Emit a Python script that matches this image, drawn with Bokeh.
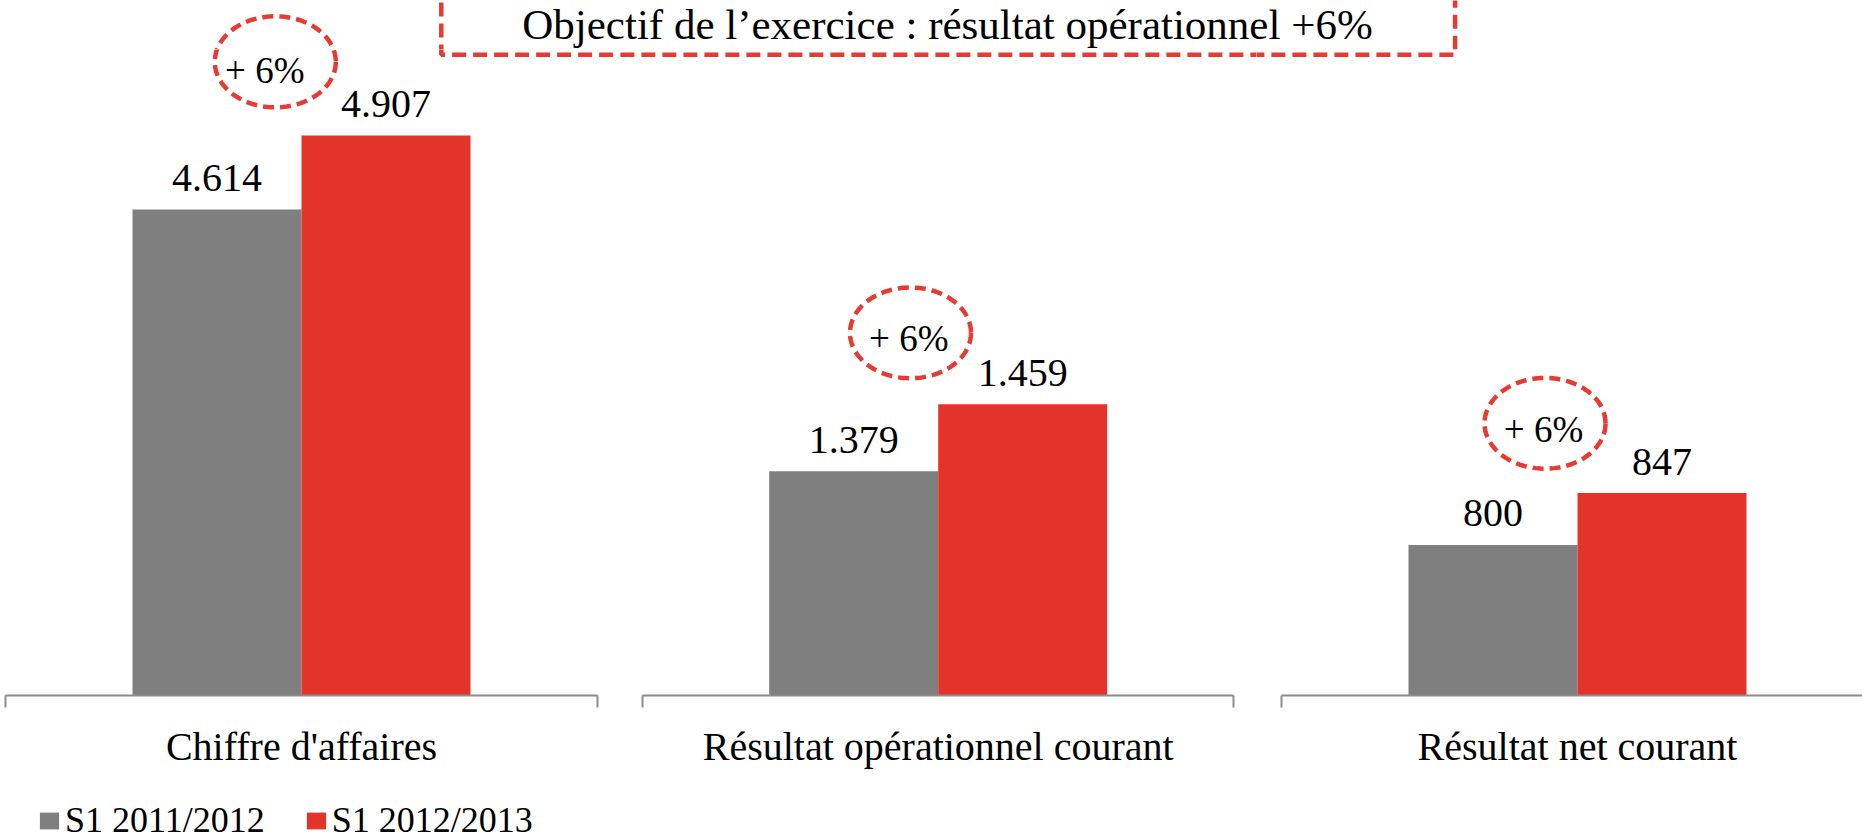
import numpy as np
from bokeh.plotting import figure
from bokeh.layouts import column, row
from bokeh.models import ColumnDataSource, Range1d, FixedTicker, Legend, LegendItem
from bokeh.core.properties import value
from bokeh.embed import file_html
from bokeh.resources import INLINE

# ---------------- data ----------------
categories = ["Chiffre d'affaires", "Résultat opérationnel courant", "Résultat net courant"]
series_names = ["S1 2011/2012", "S1 2012/2013"]
values_2011_2012 = [4614, 1379, 800]
values_2012_2013 = [4907, 1459, 847]
growth_labels = ["+ 6%", "+ 6%", "+ 6%"]
title_text = "Objectif de l’exercice : résultat opérationnel +6%"

# ---------------- styles / layout ----------------
GREY = "#7F7F7F"
RED = "#E4342A"
DASH_RED = "#E53B33"
AXIS_GREY = "#8C8C8C"
FONT_NAME = "Liberation Serif"
FONT = value(FONT_NAME)
MID = 0.3375            # text glyph baseline correction (fraction of font size)

TOTAL_W = 1862
TOP_H = 49              # header strip height
BOTTOM_H = 65           # legend strip height
ROW_H = 839 - TOP_H - BOTTOM_H
PANEL_W = [618, 638, 606]
PANEL_LEFT = [0, 618, 1256]
JUNCTION = [301.0, 937.7, 1577.0]
PX_UNIT = 169.0
AXIS_Y = [695, 697, 697]
Y_START = [2689.7, 1110.3, 663.5]
PX_PER_VAL = [0.25256, 0.8375, 1.10638]
AXIS_HALF = 1.75
ELL_OFF = [(-26.2, 73.7), (-27.7, 71.7), (-32.5, 70.0)]
ELL_SEMI = (60.5, 45.5)
TXT_OFF = [(-36.7, 52.5), (-29.4, 53.3), (-34.0, 50.7)]
PCT_SIZE = 37
VAL_SIZE = 40
TITLE_SIZE = 43
DASH_W = 4.5
BOX_X = [440.8, 1454.6]
BOX_BOTTOM = 54.2
LEGEND_LOC = (37, -2)


def fmt(v):
    return f"{v:,}".replace(",", ".")


def frame_h(i):
    return AXIS_Y[i] - TOP_H


def y_end(i):
    return Y_START[i] + frame_h(i) / PX_PER_VAL[i]


def ref_y_of_value(i, v):
    return TOP_H + (y_end(i) - v) * PX_PER_VAL[i]


def ellipse_ref(i):
    dx, dy = ELL_OFF[i]
    cx = JUNCTION[i] + dx
    cy = ref_y_of_value(i, values_2012_2013[i]) - dy
    t = np.linspace(0, 2 * np.pi, 161)
    a, b = ELL_SEMI
    return cx + a * np.cos(t), cy + b * np.sin(t)


def to_panel(i, X, Y):
    x = (np.asarray(X, dtype=float) - JUNCTION[i]) / PX_UNIT
    y = y_end(i) - (np.asarray(Y, dtype=float) - TOP_H) / PX_PER_VAL[i]
    return list(x), list(y)


BOX_XS = [BOX_X[0], BOX_X[0], BOX_X[1], BOX_X[1]]
BOX_YS = [-40, BOX_BOTTOM, BOX_BOTTOM, -40]

# ---------------- header strip (title) ----------------
strip = figure(width=TOTAL_W, height=TOP_H, x_range=Range1d(0, TOTAL_W),
               y_range=Range1d(TOP_H, 0), output_backend="svg", toolbar_location=None,
               x_axis_location=None, y_axis_location=None, min_border=0)
strip.outline_line_color = None
strip.grid.visible = False
strip.multi_line(xs=[BOX_XS], ys=[BOX_YS], line_color=DASH_RED, line_width=DASH_W, line_dash="14 7")
strip.text(x=[947], y=[39 - MID * TITLE_SIZE], text=[title_text], text_font=FONT,
           text_font_size=f"{TITLE_SIZE}px", text_align="center", text_baseline="alphabetic",
           text_color="black")
ex, ey = ellipse_ref(0)
strip.multi_line(xs=[list(ex)], ys=[list(ey)], line_color=DASH_RED, line_width=DASH_W, line_dash="11 6")

# ---------------- panels ----------------
panels = []
for i, cat in enumerate(categories):
    x0 = (PANEL_LEFT[i] - JUNCTION[i]) / PX_UNIT
    x1 = (PANEL_LEFT[i] + PANEL_W[i] - JUNCTION[i]) / PX_UNIT
    p = figure(width=PANEL_W[i], height=ROW_H, x_range=Range1d(x0, x1),
               y_range=Range1d(Y_START[i], y_end(i)), output_backend="svg",
               toolbar_location=None, y_axis_location=None, min_border_left=0,
               min_border_right=0, min_border_top=0,
               min_border_bottom=ROW_H - frame_h(i))
    p.outline_line_color = None
    p.grid.visible = False

    src_a = ColumnDataSource(dict(x=[-0.5], top=[values_2011_2012[i]], label=[fmt(values_2011_2012[i])]))
    src_b = ColumnDataSource(dict(x=[0.5], top=[values_2012_2013[i]], label=[fmt(values_2012_2013[i])]))
    p.vbar(x="x", top="top", bottom=0, width=1, source=src_a, fill_color=GREY, line_color=None)
    p.vbar(x="x", top="top", bottom=0, width=1, source=src_b, fill_color=RED, line_color=None)
    for s in (src_a, src_b):
        p.text(x="x", y="top", text="label", source=s, y_offset=-(18 + MID * VAL_SIZE),
               text_font=FONT, text_font_size=f"{VAL_SIZE}px", text_align="center",
               text_baseline="alphabetic", text_color="black")

    # dashed "+ 6%" ellipse and text
    ex, ey = ellipse_ref(i)
    px, py = to_panel(i, ex, ey)
    p.multi_line(xs=[px], ys=[py], line_color=DASH_RED, line_width=DASH_W, line_dash="11 6")
    p.text(x=[0], y=[values_2012_2013[i]], text=[growth_labels[i]], x_offset=TXT_OFF[i][0],
           y_offset=-(TXT_OFF[i][1] + MID * PCT_SIZE), text_font=FONT,
           text_font_size=f"{PCT_SIZE}px", text_align="center", text_baseline="alphabetic",
           text_color="black")

    # lower part of the title box that reaches below the header strip
    bx, by = to_panel(i, BOX_XS, BOX_YS)
    p.multi_line(xs=[bx], ys=[by], line_color=DASH_RED, line_width=DASH_W, line_dash="14 7")

    ax = p.xaxis[0]
    ax.ticker = FixedTicker(ticks=[0], minor_ticks=[-AXIS_HALF + 0.0005, AXIS_HALF - 0.0005])
    ax.bounds = (-AXIS_HALF, AXIS_HALF)
    ax.major_label_overrides = {0: cat}
    ax.major_tick_out = 0
    ax.major_tick_in = 0
    ax.minor_tick_out = 12
    ax.minor_tick_in = 0
    ax.minor_tick_line_color = AXIS_GREY
    ax.minor_tick_line_width = 2
    ax.axis_line_color = AXIS_GREY
    ax.axis_line_width = 2
    ax.major_label_text_font = FONT_NAME
    ax.major_label_text_font_size = f"{VAL_SIZE}px"
    ax.major_label_text_color = "black"
    ax.major_label_standoff = 16
    panels.append(p)

# ---------------- legend strip ----------------
leg = figure(width=TOTAL_W, height=BOTTOM_H, x_range=Range1d(0, 1), y_range=Range1d(0, 1),
             output_backend="svg", toolbar_location=None, x_axis_location=None,
             y_axis_location=None, min_border=0)
leg.outline_line_color = None
leg.grid.visible = False
# zero-height proxies that only carry the legend swatch styles
proxy = ColumnDataSource(dict(x=[0.5], top=[0.0], bottom=[0.0]))
la = leg.vbar(x="x", top="top", bottom="bottom", width=0, source=proxy, fill_color=GREY, line_color=None)
lb = leg.vbar(x="x", top="top", bottom="bottom", width=0, source=proxy, fill_color=RED, line_color=None)
legend = Legend(items=[LegendItem(label=series_names[0], renderers=[la]),
                       LegendItem(label=series_names[1], renderers=[lb])],
                location=LEGEND_LOC, orientation="horizontal", margin=0,
                glyph_width=24, glyph_height=21, label_standoff=4, spacing=39,
                label_text_font=FONT_NAME, label_text_font_size="36px",
                label_text_color="black", label_text_baseline="bottom", padding=0,
                border_line_color=None, background_fill_alpha=0)
leg.add_layout(legend)

layout = column(strip, row(*panels, spacing=0), leg, spacing=0)
open("out.html", "w").write(file_html(layout, INLINE))
